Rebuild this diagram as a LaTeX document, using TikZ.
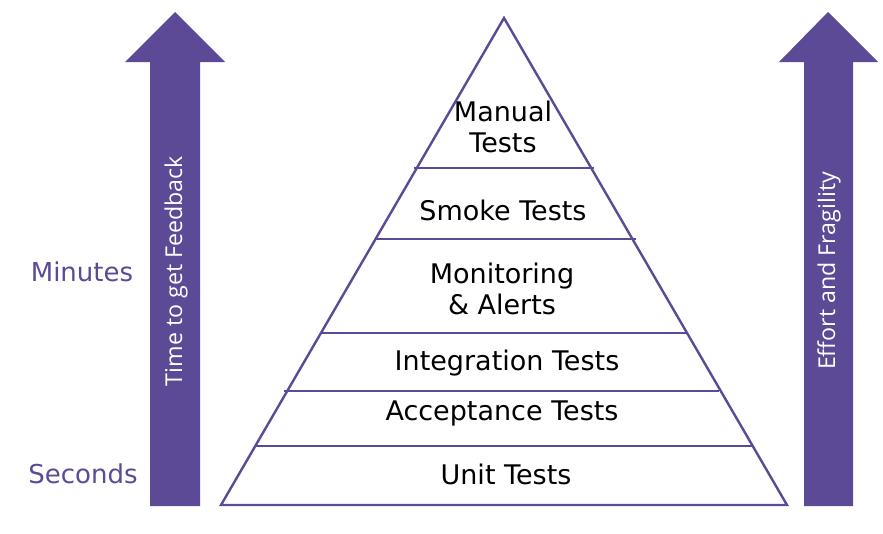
\documentclass[tikz,border=0pt]{standalone}
\usepackage{fontspec}
\setmainfont{DejaVu Sans}
\newfontfamily\arrowfont{Open Sans}
\definecolor{plum}{RGB}{92,74,150}
\begin{document}
\begin{tikzpicture}[x=1pt,y=-1pt,
  tier/.style={font=\fontsize{27}{31}\selectfont, align=center, text=black, inner sep=0pt},
  scale label/.style={font=\fontsize{26}{30}\selectfont, text=plum, inner sep=0pt},
  arrow label/.style={font=\arrowfont\fontsize{23.2}{26}\selectfont, text=white, rotate=90, inner sep=0pt},
  divider/.style={draw=plum, line width=1.8pt},
  bigarrow/.style={fill=plum, draw=none}]
\useasboundingbox (0,0) rectangle (883,533);

% upward arrows
\fill[bigarrow] (150,506) -- (150,62) -- (125,62) -- (175,12) -- (225,62) -- (200,62) -- (200,506) -- cycle;
\fill[bigarrow] (804,506) -- (804,62) -- (779,62) -- (828,12) -- (878,62) -- (853,62) -- (853,506) -- cycle;
\node[arrow label] (fb) at (176,271) {Time to get Feedback};
\node[arrow label] (ef) at (829,271) {Effort and Fragility};

% time scale
\node[scale label] (min) at (82,272) {Minutes};
\node[scale label] (sec) at (83,474) {Seconds};

% pyramid outline
\coordinate (apex) at (504,18);
\coordinate (bl) at (221,505);
\coordinate (br) at (787,505);
\draw[plum, line width=2.4pt, line join=miter] (bl) -- (apex) -- (br) -- cycle;

% tier dividers
\coordinate (d1l) at (414,168); \coordinate (d1r) at (594,168);
\coordinate (d2l) at (376,239); \coordinate (d2r) at (636,239);
\coordinate (d3l) at (322,333); \coordinate (d3r) at (688,333);
\coordinate (d4l) at (284,391); \coordinate (d4r) at (719,391);
\coordinate (d5l) at (256,446); \coordinate (d5r) at (752,446);
\draw[divider] (d1l) -- (d1r);
\draw[divider] (d2l) -- (d2r);
\draw[divider] (d3l) -- (d3r);
\draw[divider] (d4l) -- (d4r);
\draw[divider] (d5l) -- (d5r);

% tier labels
\node[tier] (manual) at (503,127) {Manual\\Tests};
\node[tier] (smoke) at (503,210) {Smoke Tests};
\node[tier] (monitor) at (502,289) {Monitoring\\\& Alerts};
\node[tier] (integ) at (507,363) {Integration Tests};
\node[tier] (accept) at (502,413) {Acceptance Tests};
\node[tier] (unit) at (506,474) {Unit Tests};
\end{tikzpicture}
\end{document}
